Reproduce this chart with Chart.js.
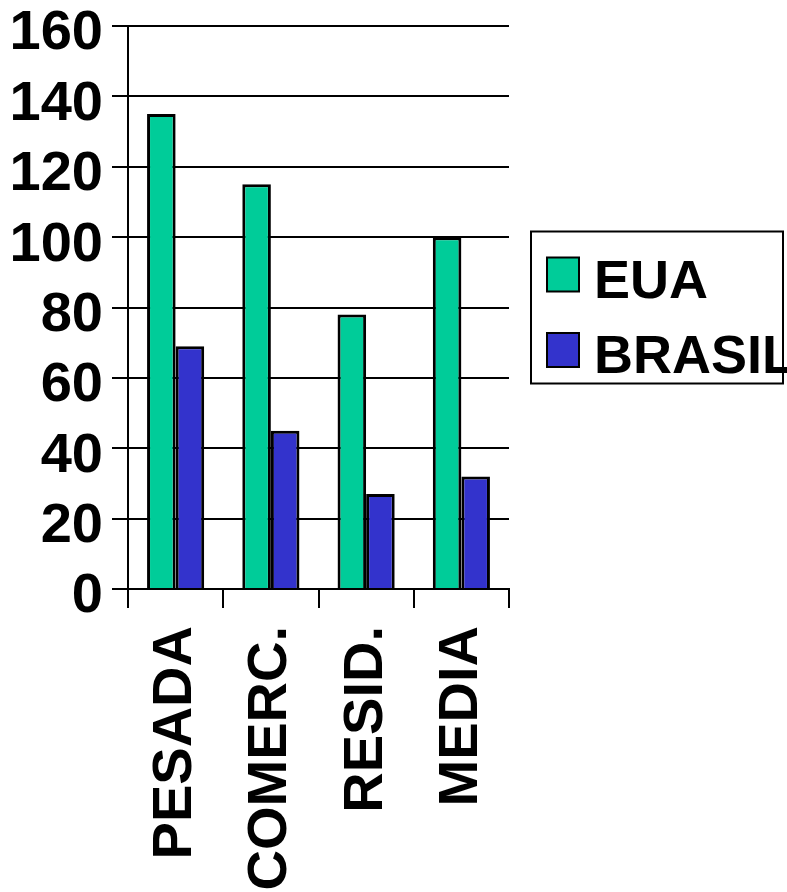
<!DOCTYPE html>
<html>
<head>
<meta charset="utf-8">
<script src="https://cdn.jsdelivr.net/npm/chart.js@4/dist/chart.umd.min.js"></script>
<style>
  html, body { margin: 0; padding: 0; background: #ffffff; }
  canvas { display: block; }
</style>
</head>
<body>
<canvas id="chart" width="787" height="892"></canvas>
<script>
// Categories and series
const categories = ['PESADA', 'COMERC.', 'RESID.', 'MEDIA'];
const euaValues = [135, 115, 78, 100];
const brasilValues = [69, 45, 27, 32];
const seriesNames = ['EUA', 'BRASIL'];
const yTicks = [0, 20, 40, 60, 80, 100, 120, 140, 160];

const FONT = '"Liberation Sans", Arial, Helvetica, sans-serif';

// Boxed legend drawn to the right of the plot area
const boxedLegend = {
  id: 'boxedLegend',
  afterDraw(chart) {
    const ctx = chart.ctx;
    const area = chart.chartArea;
    const left = area.right + 22;
    const width = 252;
    const height = 152;
    const top = (area.top + area.bottom) / 2 - height / 2;
    ctx.save();
    ctx.lineWidth = 2;
    ctx.strokeStyle = '#000000';
    ctx.fillStyle = '#ffffff';
    ctx.fillRect(left, top, width, height);
    ctx.strokeRect(left, top, width, height);
    ctx.font = 'bold 54px ' + FONT;
    ctx.textBaseline = 'alphabetic';
    ctx.textAlign = 'left';
    chart.data.datasets.forEach((ds, i) => {
      const rowTop = top + 26 + i * 75.5;
      ctx.fillStyle = ds.backgroundColor;
      ctx.fillRect(left + 16, rowTop, 32, 34);
      ctx.lineWidth = 2;
      ctx.strokeStyle = '#000000';
      ctx.strokeRect(left + 16, rowTop, 32, 34);
      ctx.fillStyle = '#000000';
      ctx.fillText(ds.label, left + 63, rowTop + 40);
    });
    ctx.restore();
  }
};

new Chart(document.getElementById('chart'), {
  type: 'bar',
  data: {
    labels: categories,
    datasets: [
      {
        label: seriesNames[0],
        data: euaValues,
        backgroundColor: '#00CC99',
        borderColor: '#000000',
        borderWidth: 3,
        categoryPercentage: 0.6,
        barPercentage: 1.0
      },
      {
        label: seriesNames[1],
        data: brasilValues,
        backgroundColor: '#3333CC',
        borderColor: '#000000',
        borderWidth: 3,
        categoryPercentage: 0.6,
        barPercentage: 1.0
      }
    ]
  },
  options: {
    responsive: false,
    animation: false,
    layout: { padding: { top: 26, right: 278, left: 0, bottom: 0 } },
    plugins: {
      legend: { display: false },
      tooltip: { enabled: false }
    },
    scales: {
      x: {
        grid: {
          display: true,
          drawOnChartArea: false,
          drawTicks: true,
          tickLength: 19,
          color: '#000000',
          lineWidth: 2
        },
        border: { display: true, color: '#000000', width: 2 },
        ticks: {
          autoSkip: false,
          maxRotation: 90,
          minRotation: 90,
          padding: 18,
          color: '#000000',
          font: { family: FONT, size: 56, weight: 'bold' }
        },
        afterFit(scale) {
          scale.height = 303;
          scale.paddingLeft = 0;
          scale.paddingRight = 0;
          scale.paddingTop = 0;
          scale.paddingBottom = 0;
        }
      },
      y: {
        min: 0,
        max: 160,
        afterBuildTicks(scale) {
          scale.ticks = yTicks.map(v => ({ value: v }));
        },
        grid: {
          color: '#000000',
          lineWidth: 2,
          drawTicks: true,
          tickLength: 16
        },
        border: { display: true, color: '#000000', width: 2 },
        ticks: {
          padding: 9,
          labelOffset: 8,
          color: '#000000',
          font: { family: FONT, size: 56, weight: 'bold' }
        },
        afterFit(scale) {
          scale.width = 128;
          scale.paddingTop = 0;
          scale.paddingBottom = 0;
          scale.paddingLeft = 0;
          scale.paddingRight = 0;
        }
      }
    }
  },
  plugins: [boxedLegend]
});
</script>
</body>
</html>
